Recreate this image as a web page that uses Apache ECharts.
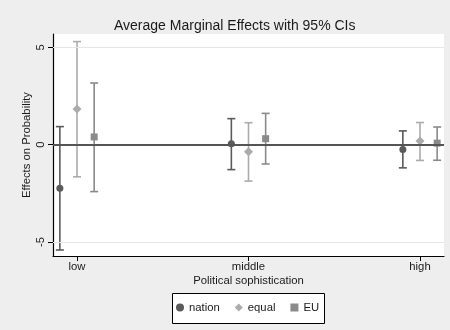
<!DOCTYPE html>
<html>
<head>
<meta charset="utf-8">
<script src="https://cdn.jsdelivr.net/npm/echarts@6/dist/echarts.min.js"></script>
<style>
  html, body { margin: 0; padding: 0; background: #eeeeee; }
  #chart { width: 450px; height: 330px; }
</style>
</head>
<body>
<div id="chart"></div>
<script>
// Levels of political sophistication (x positions 1, 2, 3)
var categories = ['low', 'middle', 'high'];
var yTicks = [-5, 0, 5];

// Average marginal effects with lower / upper 95% confidence bounds
var nationEst = [-2.24, 0.05, -0.25];
var nationLo  = [-5.41, -1.28, -1.19];
var nationHi  = [0.93, 1.34, 0.71];

var equalEst = [1.84, -0.36, 0.19];
var equalLo  = [-1.65, -1.87, -0.81];
var equalHi  = [5.30, 1.13, 1.14];

var euEst = [0.40, 0.31, 0.08];
var euLo  = [-2.41, -0.99, -0.80];
var euHi  = [3.17, 1.61, 0.91];

var FONT = '"Liberation Sans", Arial, sans-serif';
var TEXT = '#1a1a1a';

function buildData(est, lo, hi, shift) {
  return categories.map(function (c, i) {
    return [i + 1 + shift, est[i], lo[i], hi[i]];
  });
}

// Error bar with caps plus a marker at the point estimate
function makeRender(shape) {
  return function (params, api) {
    var x = api.value(0);
    var pEst = api.coord([x, api.value(1)]);
    var pLo = api.coord([x, api.value(2)]);
    var pHi = api.coord([x, api.value(3)]);
    var color = api.visual('color');
    var capHalf = 4;
    var lineStyle = { stroke: color, lineWidth: 1.6 };
    var children = [
      { type: 'line', shape: { x1: pLo[0], y1: pLo[1], x2: pHi[0], y2: pHi[1] }, style: lineStyle },
      { type: 'line', shape: { x1: pLo[0] - capHalf, y1: pLo[1], x2: pLo[0] + capHalf, y2: pLo[1] }, style: lineStyle },
      { type: 'line', shape: { x1: pHi[0] - capHalf, y1: pHi[1], x2: pHi[0] + capHalf, y2: pHi[1] }, style: lineStyle }
    ];
    var cx = pEst[0], cy = pEst[1];
    if (shape === 'circle') {
      children.push({ type: 'circle', shape: { cx: cx, cy: cy, r: 3.5 }, style: { fill: color } });
    } else if (shape === 'diamond') {
      var d = 4.5;
      children.push({ type: 'polygon', shape: { points: [[cx, cy - d], [cx + d, cy], [cx, cy + d], [cx - d, cy]] }, style: { fill: color } });
    } else {
      var s = 3.5;
      children.push({ type: 'rect', shape: { x: cx - s, y: cy - s, width: 2 * s, height: 2 * s }, style: { fill: color } });
    }
    return { type: 'group', children: children };
  };
}

var chart = echarts.init(document.getElementById('chart'), null, { renderer: 'canvas' });

chart.setOption({
  backgroundColor: '#eeeeee',
  animation: false,
  textStyle: { fontFamily: FONT },
  title: {
    text: 'Average Marginal Effects with 95% CIs',
    left: 109,
    top: 14,
    textStyle: { fontFamily: FONT, fontSize: 14, fontWeight: 'normal', color: TEXT }
  },
  grid: {
    left: 53, right: 6, top: 34, bottom: 74,
    show: true, backgroundColor: '#ffffff', borderWidth: 0
  },
  // legend frame
  graphic: [{
    type: 'rect', z: 1,
    shape: { x: 172.5, y: 293.5, width: 152, height: 30 },
    style: { fill: '#ffffff', stroke: '#000000', lineWidth: 1 }
  }],
  legend: {
    left: 176, top: 302,
    padding: 0,
    itemWidth: 8, itemHeight: 8, itemGap: 15,
    z: 10,
    textStyle: { fontFamily: FONT, fontSize: 11.3, color: TEXT },
    data: [
      { name: 'nation', icon: 'circle' },
      { name: 'equal', icon: 'diamond' },
      { name: 'EU', icon: 'rect' }
    ]
  },
  xAxis: {
    type: 'value',
    min: 0.86, max: 3.14,
    name: 'Political sophistication',
    nameLocation: 'middle',
    nameGap: 19,
    nameMoveOverlap: false,
    nameTextStyle: { fontFamily: FONT, fontSize: 11.3, color: TEXT },
    axisLine: { show: true, onZero: false, lineStyle: { color: '#000', width: 1.2 } },
    axisTick: { show: true, length: 5, customValues: [1, 2, 3], lineStyle: { color: '#000' } },
    axisLabel: {
      customValues: [1, 2, 3],
      margin: 5,
      fontFamily: FONT, fontSize: 11.3, color: TEXT,
      formatter: function (v) { return categories[Math.round(v) - 1]; }
    },
    splitLine: { show: false }
  },
  yAxis: {
    type: 'value',
    min: -5.72, max: 5.69,
    name: 'Effects on Probability',
    nameLocation: 'middle',
    nameRotate: 90,
    nameGap: 21,
    nameMoveOverlap: false,
    nameTextStyle: { fontFamily: FONT, fontSize: 11.3, color: TEXT },
    axisLine: { show: true, onZero: false, lineStyle: { color: '#000', width: 1.2 } },
    axisTick: { show: true, length: 5, customValues: yTicks, lineStyle: { color: '#000' } },
    axisLabel: {
      customValues: yTicks,
      rotate: 90,
      margin: 7,
      fontFamily: FONT, fontSize: 11.3, color: TEXT
    },
    splitLine: { show: false }
  },
  series: [
    {
      name: 'nation', type: 'custom',
      itemStyle: { color: '#5a5a5a' },
      renderItem: makeRender('circle'),
      encode: { x: 0, y: [1, 2, 3] },
      data: buildData(nationEst, nationLo, nationHi, -0.1),
      z: 3,
      markLine: {
        silent: true, symbol: 'none', animation: false,
        label: { show: false },
        data: [
          { yAxis: 5, lineStyle: { color: '#e6e6e6', width: 1, type: 'solid' } },
          { yAxis: -5, lineStyle: { color: '#e6e6e6', width: 1, type: 'solid' } },
          { yAxis: 0, lineStyle: { color: '#555555', width: 1.8, type: 'solid' } }
        ]
      }
    },
    {
      name: 'equal', type: 'custom',
      itemStyle: { color: '#ababab' },
      renderItem: makeRender('diamond'),
      encode: { x: 0, y: [1, 2, 3] },
      data: buildData(equalEst, equalLo, equalHi, 0),
      z: 3
    },
    {
      name: 'EU', type: 'custom',
      itemStyle: { color: '#8a8a8a' },
      renderItem: makeRender('square'),
      encode: { x: 0, y: [1, 2, 3] },
      data: buildData(euEst, euLo, euHi, 0.1),
      z: 3
    }
  ]
});
</script>
</body>
</html>
